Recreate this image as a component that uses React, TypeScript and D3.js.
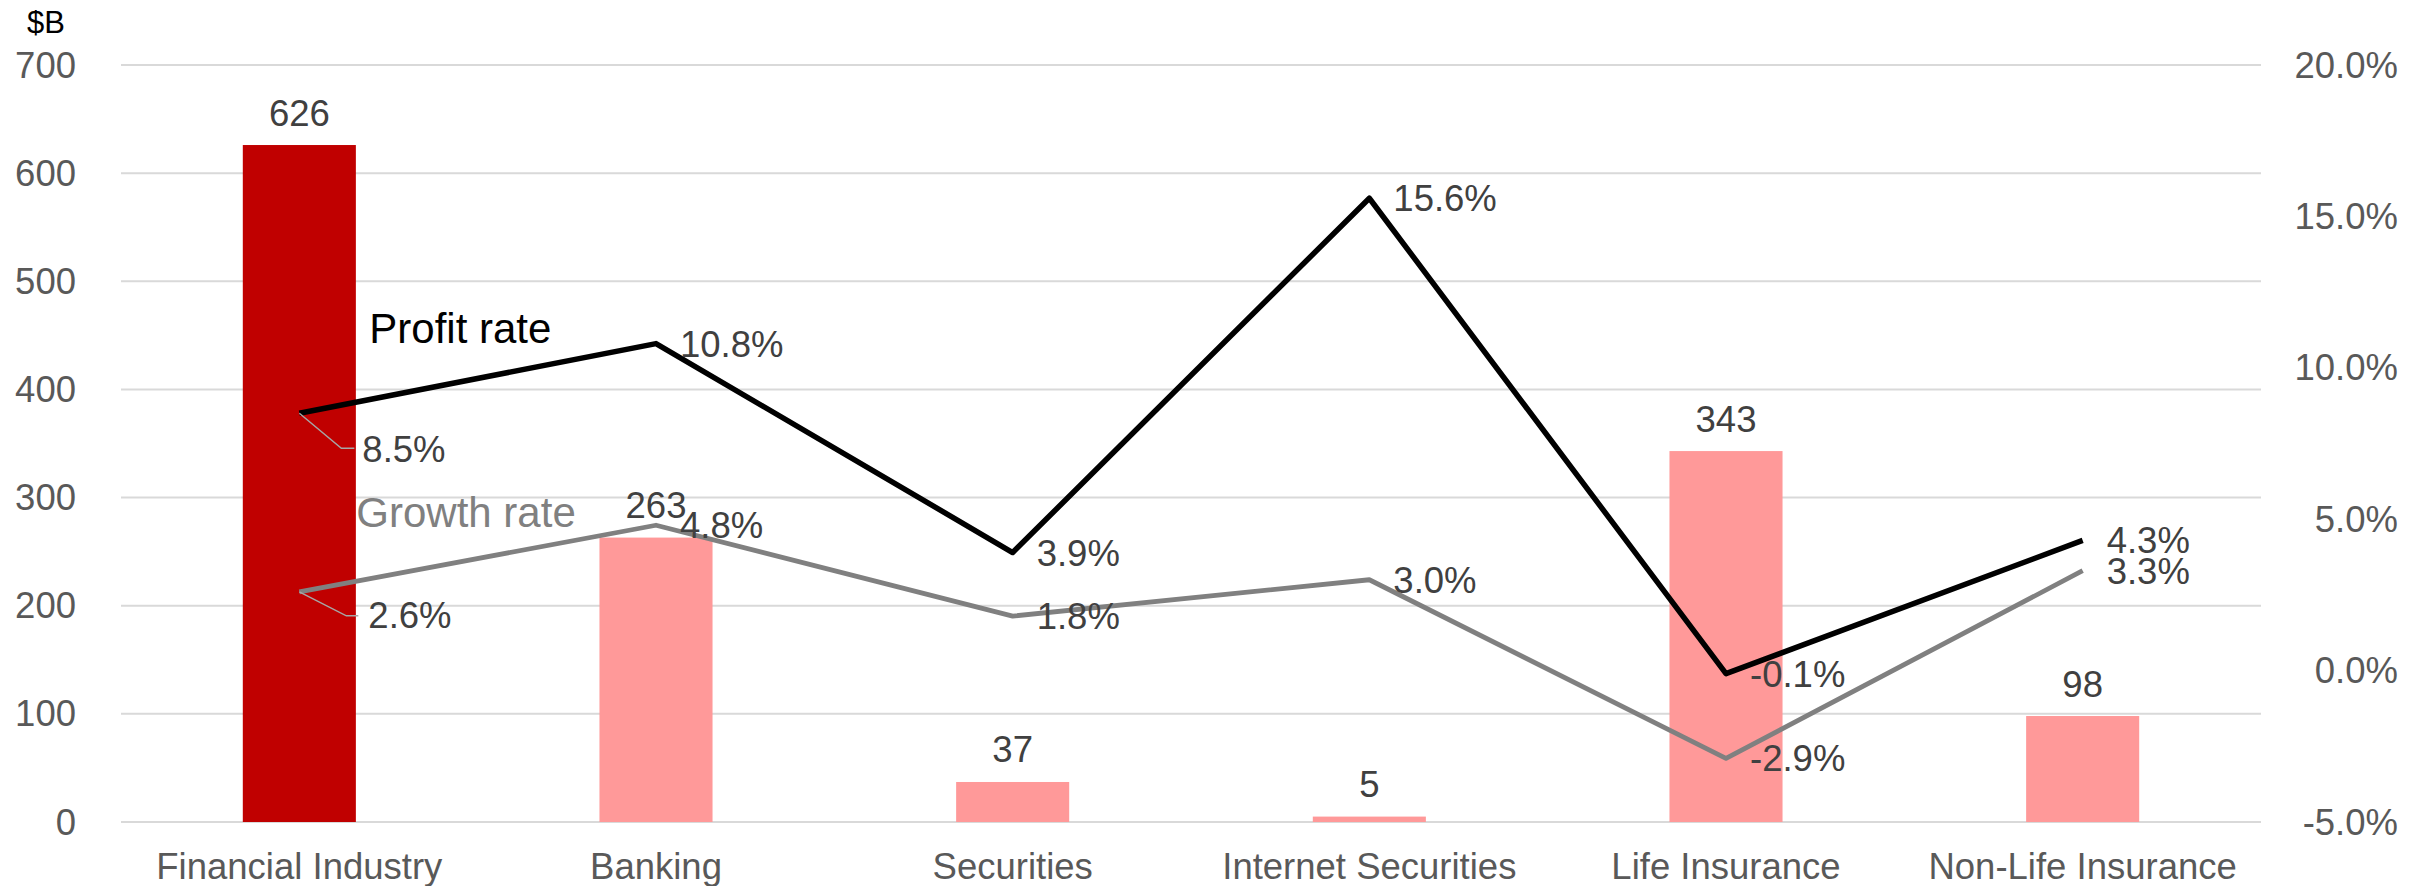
import React from "react";
import * as d3 from "d3";

// Sector values ($B) and rates
const categories = [
  "Financial Industry",
  "Banking",
  "Securities",
  "Internet Securities",
  "Life Insurance",
  "Non-Life Insurance",
];
const amounts = [626, 263, 37, 5, 343, 98];
const profitRate = [8.5, 10.8, 3.9, 15.6, -0.1, 4.3];
const growthRate = [2.6, 4.8, 1.8, 3.0, -2.9, 3.3];
const leftTicks = [0, 100, 200, 300, 400, 500, 600, 700];
const rightTicks = [-5, 0, 5, 10, 15, 20];

const W = 2428;
const H = 886;
const FONT = "'Liberation Sans', Arial, sans-serif";

const fmtPct = (v: number) => `${v < 0 ? "-" : ""}${Math.abs(v).toFixed(1)}%`;

export default function App() {
  const plotLeft = 121;
  const plotRight = 2261;
  const plotTop = 65;
  const plotBottom = 822;

  const x = d3
    .scaleBand<string>()
    .domain(categories)
    .range([plotLeft, plotRight])
    .paddingInner(0.683)
    .paddingOuter(0.683 / 2);
  const cx = (c: string) => (x(c) ?? 0) + x.bandwidth() / 2;

  const y = d3.scaleLinear().domain([0, 700]).range([plotBottom, plotTop]);
  const y2 = d3.scaleLinear().domain([-5, 20]).range([plotBottom, plotTop]);

  const line = d3
    .line<number>()
    .x((_, i) => cx(categories[i]))
    .y((d) => y2(d));

  const series = [
    {
      name: "Profit rate",
      values: profitRate,
      color: "#000000",
      width: 5.5,
      nameColor: "#000000",
      // first-point label sits below-right with a leader line
      first: { dx: 63, dy: 49, leader: [[42, 35], [55, 35]], nameDx: 70, nameDy: -70 },
    },
    {
      name: "Growth rate",
      values: growthRate,
      color: "#808080",
      width: 4.8,
      nameColor: "#808080",
      first: { dx: 69, dy: 36, leader: [[47, 24], [59, 24]], nameDx: 57, nameDy: -65 },
    },
  ];

  return (
    <svg
      width={W}
      height={H}
      style={{ position: "absolute", left: 0, top: 0, display: "block", background: "#fff" }}
      fontFamily={FONT}
    >
      {/* gridlines */}
      {leftTicks.map((t) => (
        <line
          key={`g${t}`}
          x1={plotLeft}
          x2={plotRight}
          y1={y(t)}
          y2={y(t)}
          stroke="#D9D9D9"
          strokeWidth={2}
        />
      ))}

      {/* left axis */}
      <text x={46} y={33} fontSize={31} textAnchor="middle" fill="#000">
        $B
      </text>
      {leftTicks.map((t) => (
        <text
          key={`l${t}`}
          x={76}
          y={y(t) + 12.5}
          fontSize={36.5}
          textAnchor="end"
          fill="#595959"
        >
          {t}
        </text>
      ))}

      {/* right axis */}
      {rightTicks.map((t) => (
        <text
          key={`r${t}`}
          x={2398}
          y={y2(t) + 12.5}
          fontSize={36.5}
          textAnchor="end"
          fill="#595959"
        >
          {fmtPct(t)}
        </text>
      ))}

      {/* category labels */}
      {categories.map((c) => (
        <text
          key={`c${c}`}
          x={cx(c)}
          y={879}
          fontSize={36.5}
          textAnchor="middle"
          fill="#595959"
        >
          {c}
        </text>
      ))}

      {/* bars */}
      {categories.map((c, i) => (
        <rect
          key={`b${c}`}
          x={x(c)}
          y={y(amounts[i])}
          width={x.bandwidth()}
          height={y(0) - y(amounts[i])}
          fill={i === 0 ? "#C00000" : "#FF9999"}
        />
      ))}

      {/* bar value labels */}
      {categories.map((c, i) => (
        <text
          key={`bl${c}`}
          x={cx(c)}
          y={y(amounts[i]) - 19.5}
          fontSize={36.5}
          textAnchor="middle"
          fill="#404040"
        >
          {amounts[i]}
        </text>
      ))}

      {/* rate lines */}
      {series.map((s) => (
        <path
          key={`p${s.name}`}
          d={line(s.values) ?? ""}
          fill="none"
          stroke={s.color}
          strokeWidth={s.width}
          strokeLinejoin="round"
        />
      ))}

      {/* rate labels */}
      {series.map((s) =>
        s.values.map((v, i) => {
          const px = cx(categories[i]);
          const py = y2(v);
          if (i === 0) {
            const f = s.first;
            const pts: [number, number][] = [[px, py], ...f.leader.map(([a, b]) => [px + a, py + b] as [number, number])];
            return (
              <g key={`rl${s.name}${i}`}>
                <path
                  d={d3.line()(pts) ?? ""}
                  fill="none"
                  stroke="#A6A6A6"
                  strokeWidth={1.5}
                />
                <text x={px + f.dx} y={py + f.dy} fontSize={36.5} fill="#404040">
                  {fmtPct(v)}
                </text>
                <text x={px + f.nameDx} y={py + f.nameDy} fontSize={42} fill={s.nameColor}>
                  {s.name}
                </text>
              </g>
            );
          }
          return (
            <text
              key={`rl${s.name}${i}`}
              x={px + 24}
              y={py + 13}
              fontSize={36.5}
              fill="#404040"
            >
              {fmtPct(v)}
            </text>
          );
        })
      )}
    </svg>
  );
}
